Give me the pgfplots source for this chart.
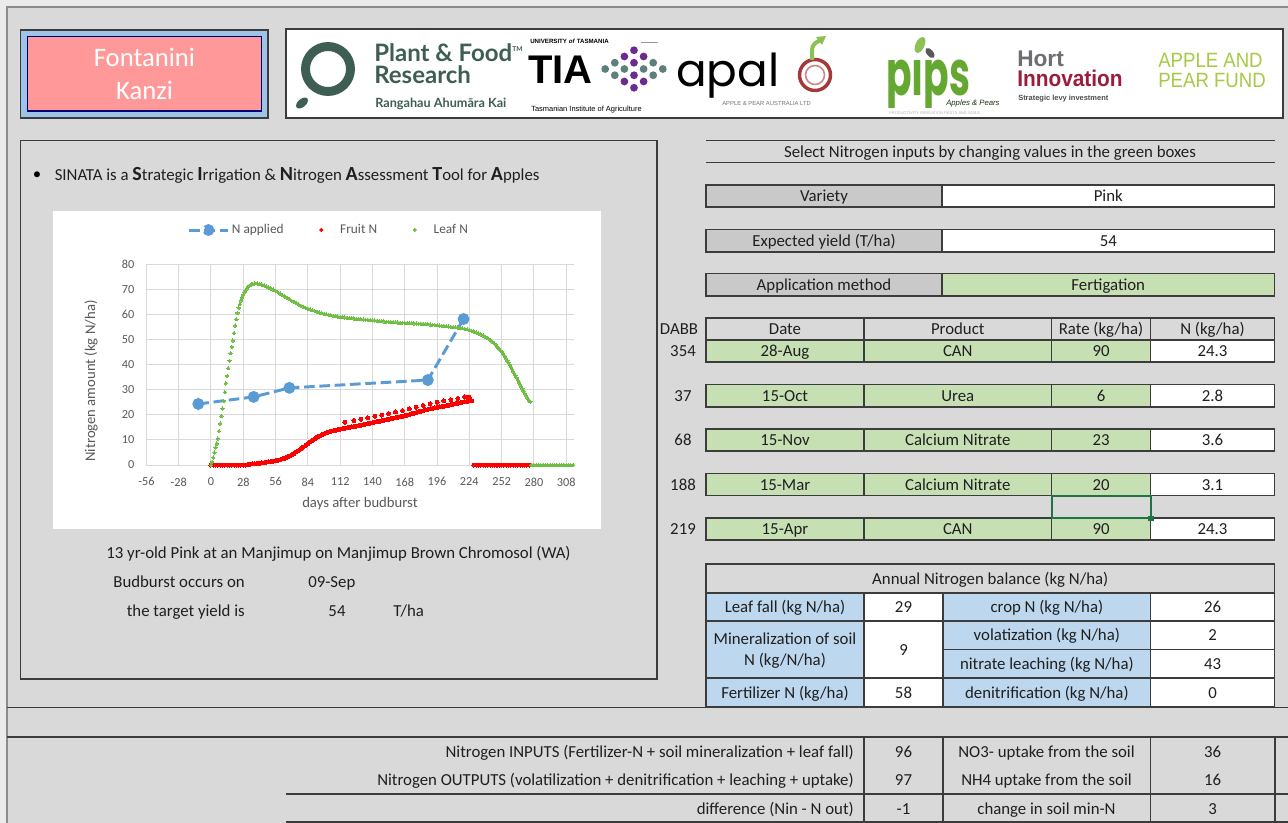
\documentclass[border=0pt]{standalone}
\usepackage{graphicx}
\usepackage{pgfplots}
\pgfplotsset{compat=1.18}
\usepackage{fontspec}
\setmainfont{Carlito}
\newfontfamily\lato{Lato}
\newfontfamily\arial{Liberation Sans}
\newfontfamily\pop{Poppins}

\definecolor{bg}{HTML}{D9D9D9}
\definecolor{edge}{HTML}{3C3C3C}
\definecolor{cgray}{HTML}{C9C9C9}
\definecolor{cgreen}{HTML}{C6E0B4}
\definecolor{cblue}{HTML}{BDD7EE}
\definecolor{pinkc}{HTML}{FF9999}
\definecolor{pinkedge}{HTML}{9DC3E6}
\definecolor{napp}{HTML}{5B9BD5}
\definecolor{leafc}{HTML}{6FBE44}
\definecolor{gridc}{HTML}{D9D9D9}
\definecolor{lab}{HTML}{595959}
\definecolor{pfr}{HTML}{3F5E53}
\definecolor{tiap}{HTML}{6A2C8E}
\definecolor{tiat}{HTML}{5E7F7B}
\definecolor{apalr}{HTML}{A33A3A}
\definecolor{apalg}{HTML}{8DC153}
\definecolor{pipsg}{HTML}{64A832}
\definecolor{hortr}{HTML}{9B1D3B}
\definecolor{hortg}{HTML}{6D6E71}
\definecolor{apfg}{HTML}{A6CA45}
\definecolor{selg}{HTML}{217346}

\pgfplotsset{
  napplegend/.style={legend image code/.code={%
    \draw[napp, line width=2.2pt, dash pattern=on 8pt off 3.5pt] (0pt,0pt) -- (29pt,0pt);
    \fill[napp] (14.5pt,0pt) circle (3.3pt);}},
  dotlegend/.style={legend image code/.code={%
    \fill[#1] (4pt,0pt) circle (1.3pt); \path (0pt,0pt) (16pt,0pt);}}}

\newcommand{\cf}{\fontsize{12.6}{15}\selectfont}
\newcommand{\bigL}{\fontsize{15}{17}\selectfont\bfseries}
% cell: x1 y1 x2 y2 fill text
\newcommand{\cell}[6]{%
  \filldraw[draw=edge, line width=1.1pt, fill=#5] (#1,#2) rectangle (#3,#4);
  \node[anchor=base, font=\cf, text=black!88, inner sep=0pt] at ({(#1+#3)/2},{(#2+#4)/2+5.5}) {#6};}

\begin{document}
\begin{tikzpicture}[x=0.75pt,y=-0.75pt]
\useasboundingbox (0,0) rectangle (1288,823);
\fill[black!8] (0,0) rectangle (1288,823);
\fill[bg] (7,7) rectangle (1288,823);
\draw[black!45, line width=0.8pt] (7,823) -- (7,7) -- (1288,7);

% variety box
\filldraw[draw=edge, line width=1pt, fill=pinkedge] (20.7,30) rectangle (268,118);
\filldraw[draw=blue!45!black, line width=1pt, fill=pinkc] (27.3,36.7) rectangle (261.7,111);
\node[anchor=base, white, font=\fontsize{20}{24}\selectfont] at (144.5,66.7) {Fontanini};
\node[anchor=base, white, font=\fontsize{20}{24}\selectfont] at (144.5,100) {Kanzi};

% logos
\filldraw[draw=edge, line width=1pt, fill=white] (286,29) rectangle (1283,118);
\draw[pfr, line width=6.7pt] (328,69) circle (22.5);
\fill[pfr, rotate around={40:(302,103)}] (302,103) ellipse [x radius=7, y radius=4];
\node[anchor=base west, pfr, inner sep=0pt, font=\lato\bfseries\fontsize{18}{20}\selectfont] at (374,62) {Plant \& Food{\fontsize{5}{5}\selectfont\raisebox{8pt}{TM}}};
\node[anchor=base west, pfr, inner sep=0pt, font=\lato\bfseries\fontsize{18}{20}\selectfont] at (374,84) {Research};
\node[anchor=base west, pfr, inner sep=0pt, font=\lato\bfseries\fontsize{9.5}{10}\selectfont] at (375,108) {Rangahau Ahumāra Kai};

\node[anchor=west, inner sep=0pt, font=\arial\bfseries\fontsize{4.6}{5}\selectfont] at (530,41.5) {UNIVERSITY \textit{of} TASMANIA};
\draw[black!40, line width=0.5pt] (641,42) -- (658,42);
\node[anchor=base west, inner sep=0pt, font=\arial\bfseries\fontsize{30}{30}\selectfont] at (528,84) {TIA};
\foreach \dx/\dy/\c in {-3/0/tiat, -2/-0.5/tiat, -2/0.5/tiat, -1/-1/tiap, -1/0/tiat, -1/1/tiap,
   0/-1.5/tiap, 0/-0.5/tiap, 0/0.5/tiap, 0/1.5/tiap, 1/-1/tiap, 1/0/tiat, 1/1/tiap,
   2/-0.5/tiat, 2/0.5/tiat, 3/0/tiat}
  \fill[\c] ({634+9.6*\dx},{69+12.5*\dy}) circle (3.9);
\node[anchor=west, inner sep=0pt, font=\arial\fontsize{5.6}{6}\selectfont] at (531,110) {Tasmanian Institute of Agriculture};

\begin{scope}
\clip (670,30) rectangle (790,99.5);
\node[anchor=base west, inner sep=0pt, font=\pop\fontsize{34}{34}\selectfont] at (676,87) {\raisebox{0pt}[\height][0pt]{apal}};
\end{scope}
\draw[apalr, line width=2.6pt] (815,75) circle (15.5);
\draw[apalr!60, line width=1.2pt] (815,75) circle (9.5);
\draw[apalg, line width=3pt] (812,60) -- (812,50) to[out=90,in=200] (821,40);
\fill[apalg] (816,37) -- (826,36) -- (822,45) -- cycle;
\node[anchor=west, inner sep=0pt, text=black!55, font=\arial\fontsize{4.4}{5}\selectfont] at (722,103) {APPLE \& PEAR AUSTRALIA LTD};

\begin{scope}
\clip (880,30) rectangle (1000,108);
\node[anchor=base west, inner sep=0pt, text=pipsg, font=\pop\bfseries\fontsize{47}{47}\selectfont] at (886,96) {\raisebox{0pt}[\height][0pt]{\scalebox{0.6}[1]{pıps}}};
\end{scope}
\fill[apalg, rotate around={-25:(920,45)}] (920,45) ellipse [x radius=4.5, y radius=8.5];
\fill[black!65, rotate around={40:(930,53)}] (930,53) ellipse [x radius=3.2, y radius=6];
\node[anchor=west, inner sep=0pt, text=black!70!pipsg, font=\arial\itshape\fontsize{5.8}{6}\selectfont] at (946,103.5) {Apples \& Pears};
\node[anchor=west, inner sep=0pt, text=black!30, font=\arial\fontsize{3}{3}\selectfont] at (889,113.5) {PRODUCTIVITY IRRIGATION PESTS AND SOILS};

\node[anchor=base west, inner sep=0pt, text=hortg, font=\arial\bfseries\fontsize{17}{17}\selectfont] at (1017,67) {Hort};
\node[anchor=base west, inner sep=0pt, text=hortr, font=\arial\bfseries\fontsize{17}{17}\selectfont] at (1017,87) {\scalebox{0.92}[1]{Innovation}};
\node[anchor=west, inner sep=0pt, text=black!70, font=\arial\bfseries\fontsize{5.6}{6}\selectfont] at (1018,98.5) {Strategic levy investment};

\node[anchor=base west, inner sep=0pt, text=apfg, font=\arial\fontsize{15.5}{16}\selectfont] at (1158,68) {\scalebox{0.9}[1]{APPLE AND}};
\node[anchor=base west, inner sep=0pt, text=apfg, font=\arial\fontsize{15.5}{16}\selectfont] at (1158,88) {\scalebox{0.9}[1]{PEAR FUND}};

% left panel
\draw[edge, line width=1pt] (20.7,140.7) rectangle (657,679);
\node[anchor=base, font=\cf, inner sep=0pt] at (37,180) {•};
\node[anchor=base west, font=\cf, inner sep=0pt, text=black!88] at (54.5,181) {SINATA is a {\bigL S}trategic {\bigL I}rrigation \& {\bigL N}itrogen {\bigL A}ssessment {\bigL T}ool for {\bigL A}pples};
\fill[white] (53,211) rectangle (601,529);

\begin{scope}[x=1cm,y=1cm]
\begin{axis}[
  at={(109.8pt,-348.75pt)}, anchor=south west,
  scale only axis, width=320.9pt, height=150.75pt,
  xmin=-56, xmax=315, ymin=0, ymax=80,
  xtick={-56,-28,...,308}, ytick={0,10,...,80},
  grid=major, major grid style={draw=gridc, line width=0.75pt},
  axis line style={draw=none}, tick style={draw=none}, major tick length=0pt,
  tick label style={font=\fontsize{9.2}{11}\selectfont, text=lab},
  /pgf/number format/assume math mode=true,
  yticklabel style={xshift=-5.5pt},
  xticklabel style={yshift=-6pt},
  legend columns=3,
  legend style={at={(0.427,1.169)}, anchor=center, draw=none, fill=none,
    font=\fontsize{10}{11}\selectfont, text=lab,
    /tikz/every even column/.append style={column sep=22pt}},
]
\addplot[napp, line width=2.2pt, dash pattern=on 8pt off 3.5pt, mark=*, mark size=3.3pt,
  mark options={solid, fill=napp, draw=napp}, napplegend]
  coordinates {(-11,24.3) (37,27.1) (68,30.7) (188,33.8) (219,58.1)};
\addlegendentry{N applied}

\addplot[only marks, mark=*, mark size=1.5pt, mark options={fill=red, draw=red, line width=0pt}, dotlegend=red]
  coordinates {
  (0,0) (2,0) (4,0) (6,0) (8,0) (10,0) (12,0) (14,0) (16,0) (18,0) (20,0) (22,0) (24,0)
  (26,0) (28,0) (30,0) (32,0.1) (34,0.3) (36,0.4) (38,0.5) (40,0.6) (42,0.7) (44,0.8)
  (46,0.9) (48,1.1) (50,1.2) (52,1.3) (54,1.5) (56,1.7) (58,1.9) (60,2.1) (62,2.4)
  (64,2.7) (66,3.1) (68,3.5) (70,4.0) (72,4.6) (74,5.2) (76,5.8) (78,6.4) (80,7.1)
  (82,7.8) (84,8.5) (86,9.2) (88,9.8) (90,10.4) (92,11.0) (94,11.5) (96,12.0) (98,12.4)
  (100,12.8) (102,13.1) (104,13.4) (106,13.6) (108,13.8) (110,14.0) (112,14.2) (114,14.4)
  (116,14.6) (118,14.8) (120,15.0) (122,15.2) (124,15.3) (126,15.5) (128,15.7) (130,15.9)
  (132,16.1) (134,16.3) (136,16.5) (138,16.7) (140,16.9) (142,17.1) (144,17.3) (146,17.4)
  (148,17.6) (150,17.8) (152,18.0) (154,18.2) (156,18.4) (158,18.6) (160,18.8) (162,19.0)
  (164,19.2) (166,19.4) (168,19.6) (170,19.9) (172,20.1) (174,20.4) (176,20.6) (178,20.9)
  (180,21.1) (182,21.4) (184,21.6) (186,21.9) (188,22.1) (190,22.3) (192,22.5) (194,22.7)
  (196,22.9) (198,23.1) (200,23.2) (202,23.4) (204,23.6) (206,23.8) (208,24.0) (210,24.2)
  (212,24.4) (214,24.6) (216,24.8) (218,25.0) (220,25.2) (222,25.3) (224,25.5) (226,25.6)
  (228,0) (230,0) (232,0) (234,0) (236,0) (238,0) (240,0) (242,0) (244,0) (246,0) (248,0)
  (250,0) (252,0) (254,0) (256,0) (258,0) (260,0) (262,0) (264,0) (266,0) (268,0) (270,0)
  (272,0) (274,0) (276,0)
  (116,17.0) (124,17.7) (130,18.2) (136,18.8) (142,19.4) (148,19.9) (154,20.5) (160,21.1)
  (166,21.7) (172,22.3) (178,23.0) (184,23.7) (190,24.4) (196,25.0) (202,25.5) (208,26.0)
  (214,26.5) (220,27.1) (224,27.0)
  };
\addlegendentry{Fruit N}

\addplot[only marks, mark=*, mark size=1.25pt, mark options={fill=leafc, draw=leafc, line width=0pt}, dotlegend=leafc]
  coordinates {
  (0,0) (1,1.2) (2,3.0) (3,5.0) (4,7.0) (5,8.5) (6,10.5) (7,13.5) (8,16.5) (9,19.5)
  (10,22.5) (11,25.5) (12,29.0) (13,32.5) (14,35.5) (15,38.5) (16,41.5) (17,44.5)
  (18,47.0) (19,49.5) (20,52.5) (21,55.5) (22,58.0) (23,60.5) (24,62.5) (25,64.0)
  (26,65.5) (27,66.7) (28,67.8) (29,68.7) (30,69.5) (31,70.2) (32,70.8) (33,71.2)
  (34,71.6) (35,71.9) (36,72.1) (38,72.3) (40,72.3) (42,72.1) (44,71.8) (46,71.5)
  (48,71.1) (50,70.7) (52,70.3) (54,69.8) (56,69.3) (58,68.8) (60,68.2) (62,67.6)
  (64,67.1) (66,66.5) (68,66.0) (70,65.4) (72,64.9) (74,64.4) (76,63.9) (78,63.4)
  (80,63.0) (82,62.6) (84,62.2) (86,61.9) (88,61.6) (90,61.3) (92,61.0) (94,60.7)
  (96,60.4) (98,60.2) (100,60.0) (102,59.8) (104,59.6) (106,59.4) (108,59.3) (110,59.1)
  (112,59.0) (114,58.9) (116,58.7) (118,58.6) (120,58.5) (122,58.4) (124,58.3) (126,58.2)
  (128,58.1) (130,58.0) (132,57.9) (134,57.8) (136,57.75) (138,57.7) (140,57.6) (142,57.5)
  (144,57.4) (146,57.3) (148,57.2) (150,57.1) (152,57.05) (154,57.0) (156,56.9) (158,56.85)
  (160,56.8) (162,56.7) (164,56.65) (166,56.6) (168,56.55) (170,56.5) (172,56.45) (174,56.4)
  (176,56.35) (178,56.3) (180,56.25) (182,56.2) (184,56.15) (186,56.1) (188,56.0) (190,55.9)
  (192,55.8) (194,55.7) (196,55.6) (198,55.5) (200,55.4) (202,55.3) (204,55.2) (206,55.1)
  (208,55.0) (210,54.9) (212,54.8) (214,54.7) (216,54.6) (218,54.4) (220,54.2) (222,54.0)
  (224,53.7) (226,53.4) (228,53.1) (230,52.8) (232,52.4) (234,52.0) (236,51.5) (238,51.0)
  (240,50.5) (242,49.8) (244,49.0) (246,48.2) (248,47.2) (249,46.7) (250,46.2) (251,45.6)
  (252,45.0) (253,44.4) (254,43.7) (255,43.0) (256,42.3) (257,41.5) (258,40.7) (259,39.9)
  (260,39.0) (261,38.1) (262,37.2) (263,36.4) (264,35.6) (265,34.7) (266,33.8) (267,32.9)
  (268,32.0) (269,31.2) (270,30.3) (271,29.4) (272,28.5) (273,27.7) (274,26.9) (275,26.2)
  (276,25.6) (277,25.2)
  (278,0) (280,0) (282,0) (284,0) (286,0) (288,0) (290,0) (292,0) (294,0) (296,0)
  (298,0) (300,0) (302,0) (304,0) (306,0) (308,0) (310,0) (312,0) (314,0)
  };
\addlegendentry{Leaf N}
\end{axis}
\end{scope}
\node[rotate=90, font=\fontsize{11}{13}\selectfont, text=lab] at (91,381) {Nitrogen amount (kg N/ha)};
\node[font=\fontsize{11}{13}\selectfont, text=lab] at (360,504) {days after budburst};

\node[anchor=base, font=\cf, text=black!88] at (338.5,558) {13 yr-old Pink at an Manjimup on Manjimup Brown Chromosol (WA)};
\node[anchor=base east, font=\cf, text=black!88, inner sep=0pt] at (245,587) {Budburst occurs on};
\node[anchor=base west, font=\cf, text=black!88, inner sep=0pt] at (308,587) {09-Sep};
\node[anchor=base east, font=\cf, text=black!88, inner sep=0pt] at (245,616) {the target yield is};
\node[anchor=base, font=\cf, text=black!88, inner sep=0pt] at (337,616) {54};
\node[anchor=base west, font=\cf, text=black!88, inner sep=0pt] at (393,616) {T/ha};

% inputs panel
\draw[edge, line width=1.1pt] (706,140.7) -- (1275,140.7);
\draw[edge, line width=1.1pt] (706,162.3) -- (1275,162.3);
\node[anchor=base, font=\cf, text=black!88] at (990,157.5) {Select Nitrogen inputs by changing values in the green boxes};

\cell{706}{185}{942}{207}{cgray}{Variety}
\cell{942}{185}{1274.5}{207}{white}{Pink}
\cell{706}{229.5}{942}{252}{cgray}{Expected yield (T/ha)}
\cell{942}{229.5}{1274.5}{252}{white}{54}
\cell{706}{273.5}{942}{296}{cgray}{Application method}
\cell{942}{273.5}{1274.5}{296}{cgreen}{Fertigation}

\cell{706}{318}{864}{340}{bg}{Date}
\cell{864}{318}{1051.5}{340}{bg}{Product}
\cell{1051.5}{318}{1150.5}{340}{bg}{Rate (kg/ha)}
\cell{1150.5}{318}{1274.5}{340}{bg}{N (kg/ha)}
\node[anchor=base, font=\cf, text=black!88] at (679,334.5) {DABB};

\foreach \ya/\yb/\da/\d/\p/\r/\n in {340/362/354/28-Aug/CAN/90/24.3, 384.5/407/37/15-Oct/Urea/6/2.8,
    429/451/68/15-Nov/Calcium Nitrate/23/3.6, 473.5/495.5/188/15-Mar/Calcium Nitrate/20/3.1,
    518/540/219/15-Apr/CAN/90/24.3}{
  \cell{706}{\ya}{864}{\yb}{cgreen}{\d}
  \cell{864}{\ya}{1051.5}{\yb}{cgreen}{\p}
  \cell{1051.5}{\ya}{1150.5}{\yb}{cgreen}{\r}
  \cell{1150.5}{\ya}{1274.5}{\yb}{white}{\n}
  \node[anchor=base, font=\cf, text=black!88] at (683,{(\ya+\yb)/2+5.5}) {\da};
}
\draw[selg, line width=1.5pt] (1051.5,495.5) rectangle (1150.5,518);
\fill[selg] (1148,515.5) rectangle (1153.5,521);

% nitrogen balance
\cell{706}{564}{1274.5}{593}{bg}{Annual Nitrogen balance (kg N/ha)}
\cell{706}{593}{864}{621}{cblue}{Leaf fall (kg N/ha)}
\cell{864}{593}{943}{621}{white}{29}
\cell{943}{593}{1150.7}{621}{cblue}{crop N (kg N/ha)}
\cell{1150.7}{593}{1274.5}{621}{white}{26}
\cell{706}{621}{864}{678}{cblue}{}
\node[anchor=base, font=\cf, text=black!88] at (785,644) {Mineralization of soil};
\node[anchor=base, font=\cf, text=black!88] at (785,665) {N (kg/N/ha)};
\cell{864}{621}{943}{678}{white}{9}
\cell{943}{621}{1150.7}{649.5}{cblue}{volatization (kg N/ha)}
\cell{1150.7}{621}{1274.5}{649.5}{white}{2}
\cell{943}{649.5}{1150.7}{678}{cblue}{nitrate leaching (kg N/ha)}
\cell{1150.7}{649.5}{1274.5}{678}{white}{43}
\cell{706}{678}{864}{707}{cblue}{Fertilizer N (kg/ha)}
\cell{864}{678}{943}{707}{white}{58}
\cell{943}{678}{1150.7}{707}{cblue}{denitrification (kg N/ha)}
\cell{1150.7}{678}{1274.5}{707}{white}{0}

% summary
\draw[edge, line width=1.2pt] (7,707.5) -- (1288,707.5);
\draw[edge, line width=1.2pt] (7,736.7) -- (1288,736.7);
\draw[edge, line width=1.1pt] (286,794) -- (1288,794);
\draw[edge, line width=1.1pt] (286,822) -- (1288,822);
\foreach \xx in {864,943,1150.7,1275}
  \draw[edge, line width=1.1pt] (\xx,736.7) -- (\xx,823);
\foreach \yy/\a/\b/\c/\d in {757.5/{Nitrogen INPUTS (Fertilizer-N + soil mineralization + leaf fall)}/96/{NO3- uptake from the soil}/36,
    785.5/{Nitrogen OUTPUTS (volatilization + denitrification + leaching + uptake)}/97/{NH4 uptake from the soil}/16,
    814/{difference (Nin - N out)}/-1/{change in soil min-N}/3}{
  \node[anchor=base east, font=\cf, text=black!88, inner sep=0pt] at (854,\yy) {\a};
  \node[anchor=base, font=\cf, text=black!88, inner sep=0pt] at (903.5,\yy) {\b};
  \node[anchor=base, font=\cf, text=black!88, inner sep=0pt] at (1046.5,\yy) {\c};
  \node[anchor=base, font=\cf, text=black!88, inner sep=0pt] at (1212.5,\yy) {\d};
}
\end{tikzpicture}
\end{document}
